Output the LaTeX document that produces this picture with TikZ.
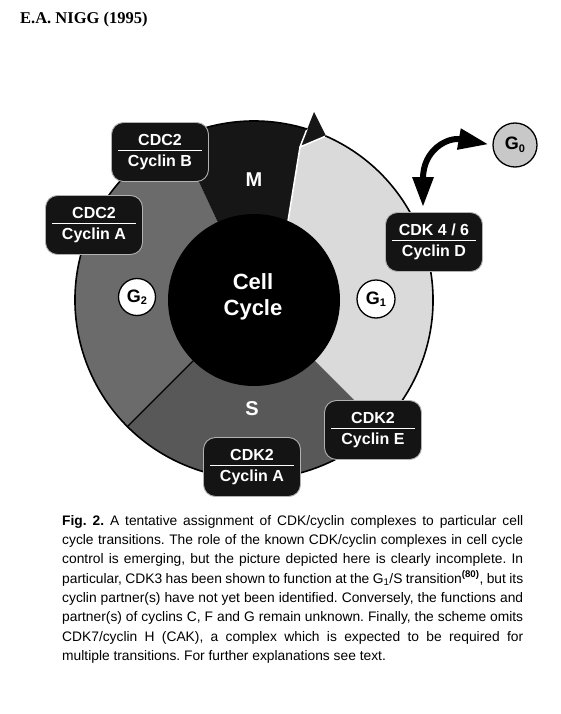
\documentclass[tikz,border=0pt]{standalone}
\usepackage{fontspec}
\setmainfont{Liberation Sans}
\newfontfamily\headfont{Liberation Serif}
\usetikzlibrary{arrows.meta,calc,positioning}
\definecolor{phasemid}{HTML}{6B6B6B}
\definecolor{phasedark}{HTML}{585858}
\definecolor{phaselight}{HTML}{DADADA}
\definecolor{mitosis}{HTML}{161616}
\definecolor{boxblack}{HTML}{141414}
\definecolor{gzero}{HTML}{C8C8C8}
\newcommand{\phsub}[1]{{\fontsize{11}{11}\selectfont\raisebox{-2.5pt}{#1}}}
\newcommand{\capline}[1]{\hbox to\hsize{#1}}
\tikzset{
  cplx/.style={rectangle, rounded corners=12pt, fill=boxblack, draw=gray!60,
    line width=0.9pt, minimum width=97pt, minimum height=59pt, inner sep=0pt,
    text=white, align=center, font=\bfseries\fontsize{16}{21}\selectfont},
  phase/.style={circle, draw=black, line width=1.3pt, fill=white,
    minimum size=37pt, inner sep=0pt, font=\bfseries\fontsize{18}{18}\selectfont},
  phlabel/.style={text=white, font=\bfseries\fontsize{20}{20}\selectfont},
}

\begin{document}
\begin{tikzpicture}[x=1pt,y=-1pt]
  \useasboundingbox (0,0) rectangle (560,714);
  \fill[white] (0,0) rectangle (560,714);

  % Header
  \node[anchor=west, inner sep=0pt, font=\headfont\bfseries\fontsize{16.5}{16.5}\selectfont] (head) at (20,20) {E.A. NIGG (1995)};

  % Ring sectors (y points down, so angles are negated)
  \coordinate (c) at (254,300);
  \fill[phaselight] (c) -- ++(45:179) arc[start angle=45, end angle=-80, radius=179] -- cycle;
  \fill[phasedark] (c) -- ++(135:179) arc[start angle=135, end angle=45, radius=179] -- cycle;
  \fill[phasemid] (c) -- ++(245:179) arc[start angle=245, end angle=135, radius=179] -- cycle;
  % M sector with its arrowhead
  \fill[mitosis] (c) -- ++(-115:179) arc[start angle=-115, end angle=-72.7, radius=179]
    -- (314,112) -- (326,136) -- (300,147) -- (288,221) -- cycle;
  \draw[white, line width=1.5pt] (288,221) -- (300,147) -- (326,136) (300,147) -- (307,129);

  % Inner disc
  \fill[black] (c) circle (86);
  % Ring outline and G2/S border
  \draw[black, line width=1.6pt] (c) ++(-66.5:179) arc[start angle=-66.5, end angle=287.3, radius=179];
  \draw[black, line width=1.2pt] (c) ++(135:86) -- ++(135:93);

  % Phase labels
  \node[phlabel] (mlab) at (254,180) {M};
  \node[phlabel] (slab) at (252,409) {S};
  \node[text=white, align=center, font=\bfseries\fontsize{22}{26}\selectfont] (cell) at (253,297) {Cell\\Cycle};
  \node[phase] (g2) at (137,297) {G\phsub{2}};
  \node[phase, minimum size=38pt] (g1) at (376,299) {G\phsub{1}};
  \node[phase, fill=gzero, minimum size=44pt] (g0) at (515,145) {G\phsub{0}};

  % CDK/cyclin complexes
  \node[cplx] (cdcb) at (160,152) {CDC2\\Cyclin B};
  \node[cplx] (cdca) at (94,225) {CDC2\\Cyclin A};
  \node[cplx] (cdkd) at (434,242) {CDK 4 / 6\\Cyclin D};
  \node[cplx] (cdke) at (373,430) {CDK2\\Cyclin E};
  \node[cplx] (cdka) at (252,467) {CDK2\\Cyclin A};
  \foreach \b in {cdcb,cdca,cdkd,cdke,cdka}
    \draw[white, line width=1.5pt] ([xshift=7pt,yshift=1.5pt]\b.west) -- ([xshift=-7pt,yshift=1.5pt]\b.east);

  % Exit to G0
  \draw[line width=6pt, {Triangle[length=30pt,width=20pt]}-{Triangle[length=30pt,width=20pt]},
    shorten <=5pt, shorten >=4pt]
    ([xshift=-11pt]cdkd.north) .. controls +(0,-62) and +(-45,-8) .. (g0.west);

  % Caption
  \node[anchor=north west, inner sep=0pt, font=\fontsize{13.8}{19.3}\selectfont] (caption) at (62,515)
    {\vbox{\hsize=461pt\frenchspacing
    \capline{\textbf{Fig. 2.} A tentative assignment of CDK/cyclin complexes to particular cell}
    \capline{cycle transitions. The role of the known CDK/cyclin complexes in cell cycle}
    \capline{control is emerging, but the picture depicted here is clearly incomplete. In}
    \capline{particular, CDK3 has been shown to function at the G\textsubscript{1}/S transition\textsuperscript{\textbf{(80)}}, but its}
    \capline{cyclin partner(s) have not yet been identified. Conversely, the functions and}
    \capline{partner(s) of cyclins C, F and G remain unknown. Finally, the scheme omits}
    \capline{CDK7/cyclin H (CAK), a complex which is expected to be required for}
    \hbox{multiple transitions. For further explanations see text.}}};
\end{tikzpicture}
\end{document}
